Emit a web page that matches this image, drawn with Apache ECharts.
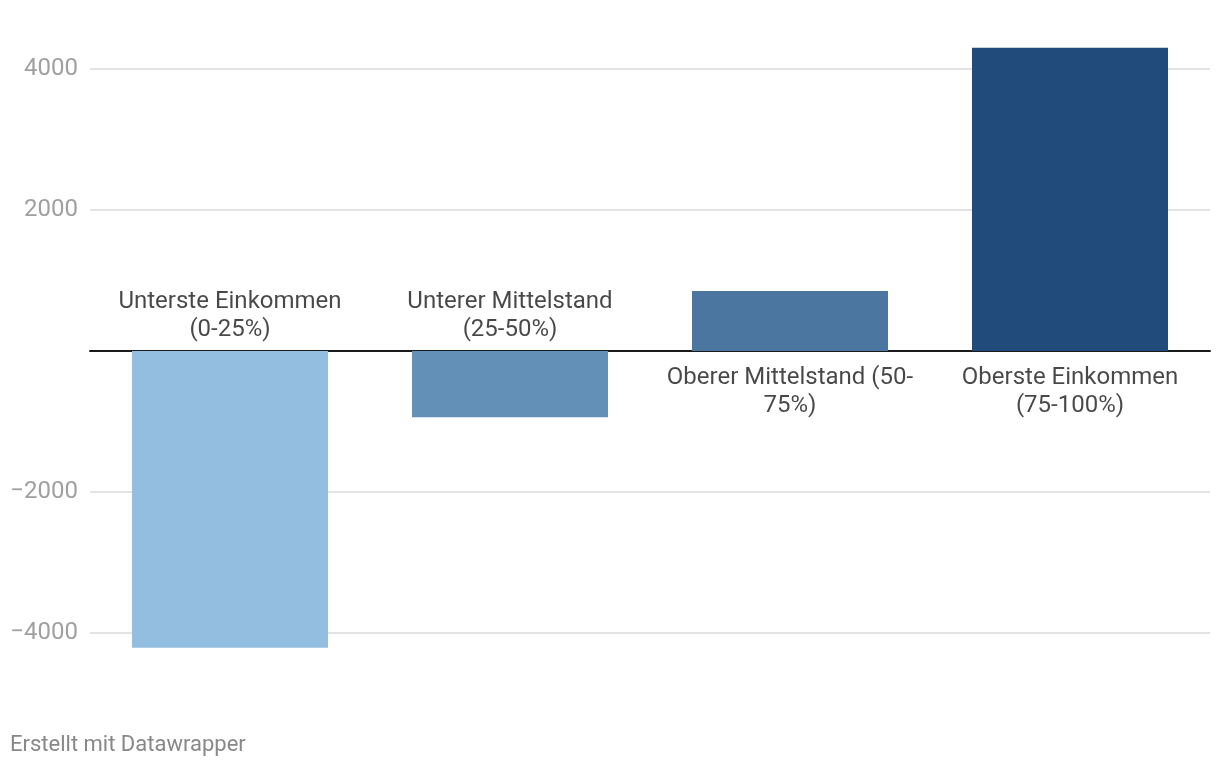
<!DOCTYPE html>
<html>
<head>
<meta charset="utf-8">
<script src="https://cdn.jsdelivr.net/npm/echarts@6/dist/echarts.min.js"></script>
<style>
html,body{margin:0;padding:0;background:#fff;}
#chart{width:1220px;height:768px;}
</style>
</head>
<body>
<div id="chart"></div>
<script>
const categories = ['Unterste Einkommen\n(0-25%)', 'Unterer Mittelstand\n(25-50%)', 'Oberer Mittelstand (50-\n75%)', 'Oberste Einkommen\n(75-100%)'];
const values = [-4210, -940, 850, 4300];
const barColors = ['#94bedf', '#6390b6', '#4a76a0', '#214b7b'];
const yTicks = [-4000, -2000, 0, 2000, 4000];
const footer = 'Erstellt mit Datawrapper';

const FONT = 'Roboto';
const chart = echarts.init(document.getElementById('chart'), null, {renderer: 'canvas'});
chart.setOption({
  animation: false,
  backgroundColor: '#ffffff',
  textStyle: {fontFamily: FONT},
  grid: {left: 90, right: 10, top: 69, bottom: 135, containLabel: false},
  graphic: [{
    type: 'text', x: 10, y: 745,
    style: {text: footer, fontFamily: FONT, fontSize: 22, fill: '#888888', verticalAlign: 'middle'}
  }],
  xAxis: {
    type: 'category',
    data: categories,
    axisLine: {show: true, onZero: true, lineStyle: {color: '#1a1a1a', width: 2}},
    axisTick: {show: false},
    axisLabel: {show: false},
    splitLine: {show: false}
  },
  yAxis: {
    type: 'value',
    min: yTicks[0], max: yTicks[yTicks.length - 1], interval: 2000,
    axisLine: {show: false},
    axisTick: {show: false},
    axisLabel: {
      color: '#a0a0a0', fontFamily: FONT, fontSize: 24, margin: 12,
      formatter: v => v === 0 ? '' : String(v).replace('-', '\u2212')
    },
    splitLine: {show: true, lineStyle: {color: '#e3e3e3', width: 2}}
  },
  series: [{
    type: 'bar',
    barWidth: '70%',
    clip: false,
    data: values.map((v, i) => ({value: v, itemStyle: {color: barColors[i]}})),
    z: 2
  }, {
    type: 'scatter',
    symbolSize: 0,
    silent: true,
    clip: false,
    data: values.map((v, i) => ({
      value: [i, 0],
      label: {
        show: true,
        position: v < 0 ? 'top' : 'bottom',
        distance: v < 0 ? 7 : 13,
        formatter: categories[i],
        color: '#1a1a1a',
        fontFamily: FONT,
        fontSize: 24,
        lineHeight: 28,
        align: 'center'
      }
    })),
    z: 3
  }]
});
</script>
</body>
</html>
